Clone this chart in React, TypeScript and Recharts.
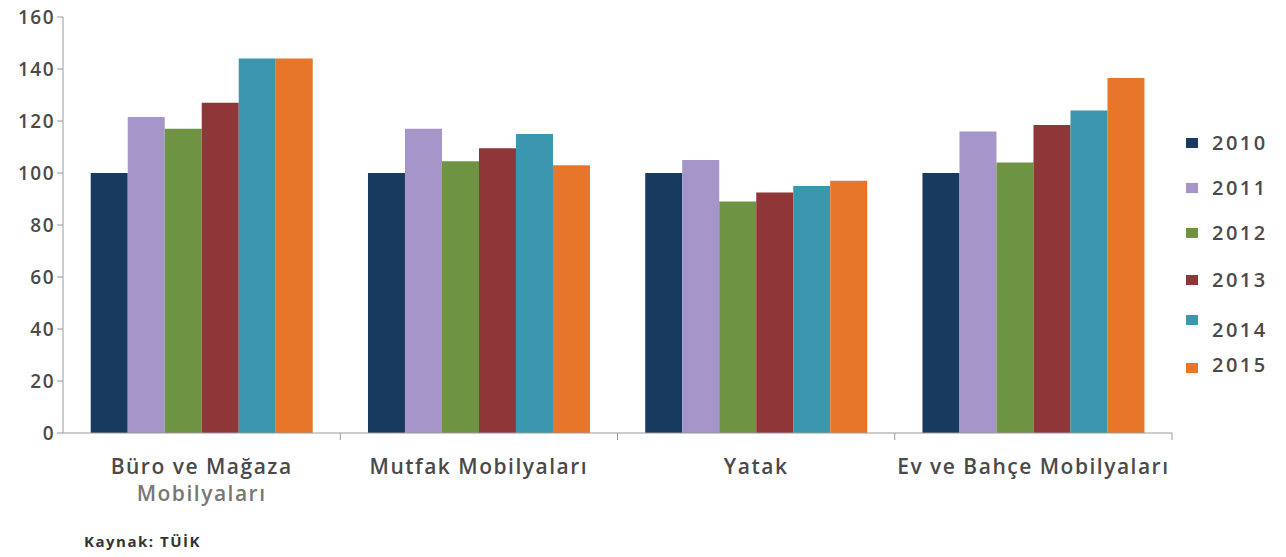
import { BarChart, Bar, XAxis, YAxis } from "recharts";

const categories = ["Büro ve Mağaza\nMobilyaları", "Mutfak Mobilyaları", "Yatak", "Ev ve Bahçe Mobilyaları"];
const years = ["2010", "2011", "2012", "2013", "2014", "2015"];
const colors = ["#173a5e", "#a595c8", "#6e9443", "#8e3638", "#3b97ad", "#e8762a"];

const v2010 = [100, 100, 100, 100];
const v2011 = [121.5, 117, 105, 116];
const v2012 = [117, 104.5, 89, 104];
const v2013 = [127, 109.5, 92.5, 118.5];
const v2014 = [144, 115, 95, 124];
const v2015 = [144, 103, 97, 136.5];

const yTicks = [0, 20, 40, 60, 80, 100, 120, 140, 160];

const series = [v2010, v2011, v2012, v2013, v2014, v2015];
const data = categories.map((name, i) => {
    const row: Record<string, string | number> = { name };
    years.forEach((y, j) => {
        row[y] = series[j][i];
    });
    return row;
});

const FONT = "'Open Sans', sans-serif";

// legend rows in the original are not evenly spaced
const legendTextY = [143, 188, 233, 280, 330, 365];
const legendBoxY = [143, 188, 233, 280, 320, 368];

const CategoryTick = (props: any) => {
    const { x, y, payload } = props;
    const half = payload.offset || 0;
    const lines = String(payload.value).split("\n");
    return (
        <g>
            <line x1={x + half} y1={y - 8} x2={x + half} y2={y - 1} stroke="#999" />
            {lines.map((l, i) => (
                <text
                    key={i}
                    x={x}
                    y={y + 33 + i * 27}
                    textAnchor="middle"
                    fontSize={21}
                    letterSpacing={1.5}
                    fontWeight={600}
                    fontFamily={FONT}
                    fill={i === 0 ? "#4a4a4a" : "#777"}
                >
                    {l}
                </text>
            ))}
        </g>
    );
};

const YearLegend = () => (
    <div style={{ fontFamily: FONT, fontSize: 20, fontWeight: 600, letterSpacing: 2.5, color: "#4a4a4a" }}>
        {years.map((y, i) => (
            <div key={y}>
                <span
                    style={{
                        position: "absolute",
                        left: 1186,
                        top: legendBoxY[i] - 5,
                        width: 12,
                        height: 10,
                        background: colors[i],
                    }}
                />
                <span style={{ position: "absolute", left: 1212, top: legendTextY[i] - 14, lineHeight: "28px" }}>
                    {y}
                </span>
            </div>
        ))}
    </div>
);

const App = () => {
    return (
        <div style={{ position: "absolute", left: 0, top: 0, width: 1286, height: 557, background: "#fff" }}>
            <BarChart
                width={1286}
                height={557}
                data={data}
                margin={{ top: 17, right: 114, left: 0, bottom: 64 }}
                barCategoryGap="10%"
                barGap={0}
            >
                <XAxis
                    dataKey="name"
                    stroke="#999"
                    tickLine={false}
                    tick={<CategoryTick />}
                    interval={0}
                    height={60}
                />
                <YAxis
                    domain={[0, 160]}
                    ticks={yTicks}
                    width={63}
                    stroke="#999"
                    tickSize={6}
                    tick={{ fill: "#4a4a4a", fontSize: 19, fontWeight: 600, letterSpacing: 1.5, fontFamily: FONT }}
                />
                {years.map((y, i) => (
                    <Bar key={y} dataKey={y} fill={colors[i]} isAnimationActive={false} />
                ))}
            </BarChart>
            <YearLegend />
            <div
                style={{
                    position: "absolute",
                    left: 84,
                    top: 531,
                    fontFamily: FONT,
                    fontSize: 15,
                    fontWeight: 700,
                    letterSpacing: 1.5,
                    color: "#333",
                }}
            >
                Kaynak: TÜİK
            </div>
        </div>
    );
};

export default App;
